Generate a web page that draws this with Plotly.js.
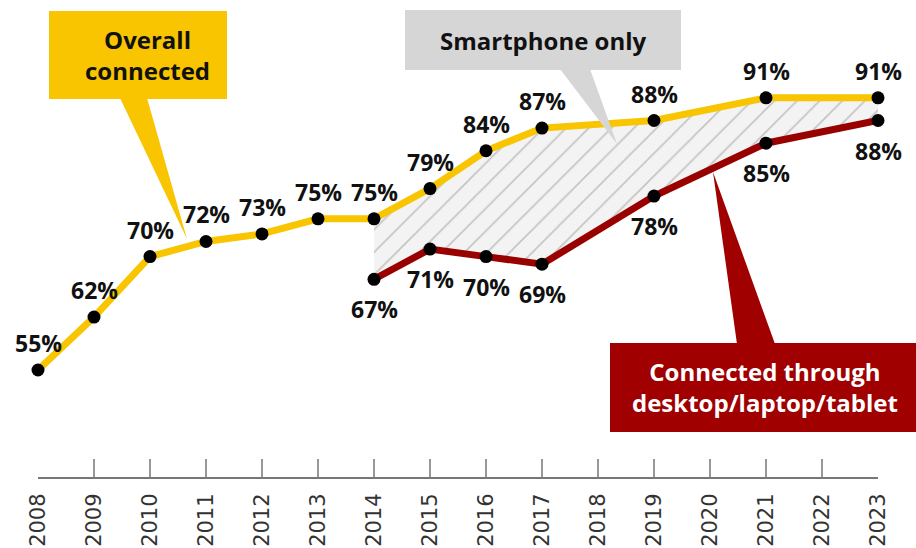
<!DOCTYPE html>
<html>
<head>
<meta charset="utf-8">
<script src="https://cdn.plot.ly/plotly-3.0.1.min.js"></script>
<style>html,body{margin:0;padding:0;background:#fff;}#chart{width:916px;height:548px;}</style>
</head>
<body>
<div id="chart"></div>
<script>
// ---- data ----
const tickYears = [2008,2009,2010,2011,2012,2013,2014,2015,2016,2017,2018,2019,2020,2021,2022,2023];
const overallYears = [2008,2009,2010,2011,2012,2013,2014,2015,2016,2017,2019,2021,2023];
const overallVals  = [55,62,70,72,73,75,75,79,84,87,88,91,91];
const deviceYears  = [2014,2015,2016,2017,2019,2021,2023];
const deviceVals   = [67,71,70,69,78,85,88];
const seriesNames  = ["Overall connected","Smartphone only","Connected through<br>desktop/laptop/tablet"];

const YELLOW = "#F8C500", RED = "#990000", GRAY = "#D6D6D6";
const W = 916, H = 548, ML = 38, MR = 38, MT = 0, MB = 71;
const pw = W - ML - MR, ph = H - MT - MB;
const px = x => (x - ML) / pw;          // pixel -> paper x
const py = y => (H - MB - y) / ph;      // pixel -> paper y

const FAM = "'Open Sans', Lato, sans-serif";
const labelFont = {family: FAM, size: 23, color: "#111", weight: "bold"};
const pct = v => v + "%";

// overlap part of overall series for the hatched band
const bandYears = overallYears.filter(y => y >= deviceYears[0]);
const bandVals = overallVals.filter((v, i) => overallYears[i] >= deviceYears[0]);

const traces = [
  {x: deviceYears, y: deviceVals, mode: "lines", line: {width: 0, color: RED}, hoverinfo: "skip", showlegend: false},
  {x: bandYears, y: bandVals, mode: "lines", line: {width: 0}, fill: "tonexty",
   fillcolor: "#F2F2F2",
   fillpattern: {shape: "/", bgcolor: "#F3F3F3", fgcolor: "#C4C4C4", size: 16, solidity: 0.1},
   hoverinfo: "skip", showlegend: false, name: seriesNames[1]},
  {x: overallYears, y: overallVals, mode: "lines+markers", name: seriesNames[0],
   line: {color: YELLOW, width: 7}, marker: {color: "#000", size: 13}, cliponaxis: false},
  {x: deviceYears, y: deviceVals, mode: "lines+markers", name: seriesNames[2],
   line: {color: RED, width: 7}, marker: {color: "#000", size: 13}, cliponaxis: false}
];

const boxFont = {family: FAM, size: 24, weight: "bold"};
const shapes = [
  // Overall connected box + tail
  {type: "rect", xref: "paper", yref: "paper", x0: px(49), x1: px(227), y0: py(99), y1: py(11), fillcolor: YELLOW, line: {width: 0}, layer: "above"},
  {type: "path", xref: "paper", yref: "paper", path: `M ${px(120)} ${py(98)} L ${px(147)} ${py(98)} L ${px(187)} ${py(239)} Z`, fillcolor: YELLOW, line: {width: 0}, layer: "above"},
  // Smartphone only box + tail
  {type: "rect", xref: "paper", yref: "paper", x0: px(405), x1: px(681), y0: py(70), y1: py(10), fillcolor: GRAY, line: {width: 0}, layer: "above"},
  {type: "path", xref: "paper", yref: "paper", path: `M ${px(560)} ${py(69)} L ${px(590)} ${py(69)} L ${px(617)} ${py(144)} Z`, fillcolor: GRAY, line: {width: 0}, layer: "above"},
  // Device box + tail
  {type: "rect", xref: "paper", yref: "paper", x0: px(610), x1: px(916), y0: py(432), y1: py(343), fillcolor: "#A00000", line: {width: 0}, layer: "above"},
  {type: "path", xref: "paper", yref: "paper", path: `M ${px(737)} ${py(344)} L ${px(775)} ${py(344)} L ${px(713)} ${py(172)} Z`, fillcolor: "#A00000", line: {width: 0}, layer: "above"}
];

const valueLabels = [
  ...overallYears.map((yr, i) => ({xref: "x", yref: "y", x: yr, y: overallVals[i], text: pct(overallVals[i]),
      showarrow: false, font: labelFont, xanchor: "center", yanchor: "middle", yshift: 27})),
  ...deviceYears.map((yr, i) => ({xref: "x", yref: "y", x: yr, y: deviceVals[i], text: pct(deviceVals[i]),
      showarrow: false, font: labelFont, xanchor: "center", yanchor: "middle", yshift: -30}))
];

const annotations = valueLabels.concat([
  {xref: "paper", yref: "paper", x: px(147), y: py(55), text: "Overall<br>connected", showarrow: false, font: Object.assign({}, boxFont, {color: "#111"}), xanchor: "center", yanchor: "middle"},
  {xref: "paper", yref: "paper", x: px(543), y: py(40), text: seriesNames[1], showarrow: false, font: Object.assign({}, boxFont, {color: "#111"}), xanchor: "center", yanchor: "middle"},
  {xref: "paper", yref: "paper", x: px(765), y: py(387), text: seriesNames[2], showarrow: false, font: Object.assign({}, boxFont, {color: "#fff"}), xanchor: "center", yanchor: "middle"}
]);

const layout = {
  width: W, height: H,
  margin: {l: ML, r: MR, t: MT, b: MB, pad: 0},
  paper_bgcolor: "#fff", plot_bgcolor: "#fff",
  showlegend: false,
  xaxis: {range: [2008, 2023], tickmode: "array", tickvals: tickYears, ticktext: tickYears.map(String),
          ticks: "inside", ticklen: 18, tickwidth: 1.5, tickcolor: "#999",
          showline: true, linecolor: "#777", linewidth: 2, showgrid: false, zeroline: false,
          tickangle: -90, ticklabelstandoff: 6,
          tickfont: {family: "DejaVu Sans", size: 21, color: "#333"}},
  yaxis: {range: [40.85, 103.94], visible: false, showgrid: false, zeroline: false},
  shapes: shapes,
  annotations: annotations
};

Plotly.newPlot("chart", traces, layout, {displayModeBar: false, staticPlot: true});
</script>
</body>
</html>
